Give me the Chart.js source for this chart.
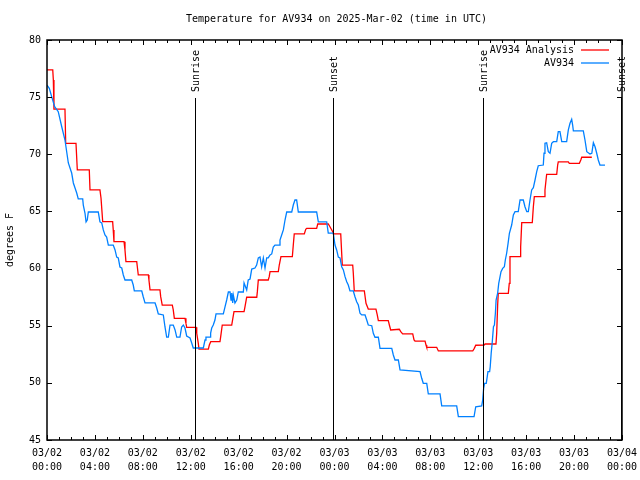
<!DOCTYPE html>
<html>
<head>
<meta charset="utf-8">
<title>Temperature for AV934</title>
<script src="https://cdn.jsdelivr.net/npm/chart.js@4.4.1/dist/chart.umd.min.js"></script>
<style>
  html, body { margin: 0; padding: 0; background: #fff; }
</style>
</head>
<body>
<canvas id="tempChart" width="640" height="480"></canvas>
<script>
const chartTitle = 'Temperature for AV934 on 2025-Mar-02 (time in UTC)';
const yLabel = 'degrees F';
const seriesNames = ['AV934 Analysis', 'AV934'];
const seriesColors = ['#ff0000', '#0080ff'];
const tickDates = ['03/02', '03/03', '03/04'];

// hours since 03/02 00:00 UTC
const sunHours = [12.35, 23.9, 36.42, 47.9];
const sunLabels = ['Sunrise', 'Sunset', 'Sunrise', 'Sunset'];

const analysisHours = [0, 0.48, 0.53, 0.58, 1.50, 1.56, 2.42, 2.53, 3.53, 3.59,
  4.42, 4.51, 4.65, 5.48, 5.53, 5.59, 6.43, 6.51, 6.59, 7.49,
  7.54, 7.62, 8.46, 8.51, 8.60, 9.43, 9.49, 9.62, 10.46, 10.54,
  10.63, 11.52, 11.60, 11.66, 12.44, 12.50, 12.63, 12.69, 13.47, 13.55,
  13.67, 14.44, 14.50, 14.63, 15.42, 15.50, 15.61, 16.45, 16.53, 16.67,
  17.51, 17.56, 17.64, 18.47, 18.55, 18.62, 19.31, 19.39, 19.53, 20.48,
  20.56, 20.64, 21.48, 21.60, 21.68, 22.51, 22.60, 23.48, 23.62, 23.85,
  23.90, 24.52, 24.60, 24.65, 25.52, 25.57, 25.65, 26.49, 26.63, 26.82,
  27.46, 27.57, 27.66, 28.49, 28.58, 28.69, 29.41, 29.53, 29.69, 30.53,
  30.64, 30.72, 31.56, 31.64, 31.70, 32.53, 32.67, 35.54, 35.67, 35.79,
  36.49, 36.57, 37.48, 37.54, 37.62, 37.67, 38.51, 38.59, 38.65, 39.49,
  39.54, 39.63, 40.51, 40.60, 40.68, 41.49, 41.57, 41.71, 42.55, 42.63,
  42.68, 43.52, 43.60, 44.44, 44.56, 44.64, 45.48];
const analysisTemps = [77.38, 77.38, 76.50, 73.96, 73.96, 70.96, 70.96, 68.63, 68.63, 66.88,
  66.88, 66.15, 64.10, 64.10, 63.38, 62.35, 62.35, 61.63, 60.60, 60.60,
  60.16, 59.44, 59.44, 59.00, 58.13, 58.13, 57.54, 56.81, 56.81, 56.38,
  55.65, 55.65, 55.21, 54.86, 54.86, 54.34, 53.46, 52.96, 52.96, 53.31,
  53.60, 53.60, 54.04, 55.06, 55.06, 55.56, 56.23, 56.23, 56.66, 57.49,
  57.49, 57.98, 59.00, 59.00, 59.29, 59.73, 59.73, 60.31, 61.04, 61.04,
  62.06, 63.03, 63.03, 63.44, 63.52, 63.52, 63.90, 63.90, 63.66, 63.23,
  63.03, 63.03, 61.34, 60.31, 60.31, 59.59, 58.04, 58.04, 56.96, 56.46,
  56.46, 55.94, 55.44, 55.44, 55.06, 54.63, 54.69, 54.48, 54.28, 54.28,
  53.75, 53.66, 53.66, 53.31, 53.11, 53.11, 52.79, 52.79, 53.02, 53.29,
  53.31, 53.40, 53.40, 54.34, 56.81, 57.83, 57.83, 58.71, 61.04, 61.04,
  61.91, 64.02, 64.02, 65.41, 66.29, 66.29, 66.88, 68.25, 68.25, 69.06,
  69.33, 69.33, 69.21, 69.21, 69.50, 69.74, 69.74];

const obsHours = [0, 0.19, 0.39, 0.64, 0.94, 1.23, 1.50, 1.78, 2.06, 2.20,
  2.34, 2.48, 2.61, 2.98, 3.03, 3.17, 3.26, 3.36, 3.45, 4.28,
  4.42, 4.57, 4.70, 4.84, 4.98, 5.12, 5.53, 5.68, 5.82, 5.95,
  6.09, 6.24, 6.37, 6.51, 7.07, 7.20, 7.29, 7.91, 8.04, 8.18,
  9.02, 9.16, 9.29, 9.71, 9.85, 9.99, 10.13, 10.27, 10.54, 10.69,
  10.83, 11.10, 11.24, 11.38, 11.52, 11.66, 11.94, 12.08, 12.21, 13.05,
  13.19, 13.27, 13.61, 13.66, 13.75, 13.88, 14.02, 14.11, 14.72, 14.86,
  15.00, 15.14, 15.28, 15.36, 15.42, 15.50, 15.55, 15.69, 15.84, 15.97,
  16.39, 16.45, 16.67, 16.80, 16.95, 17.09, 17.36, 17.50, 17.64, 17.78,
  17.92, 18.06, 18.20, 18.34, 18.47, 18.62, 18.76, 18.89, 19.03, 19.39,
  19.45, 19.59, 19.73, 19.87, 20.01, 20.43, 20.56, 20.70, 20.84, 20.98,
  22.51, 22.65, 23.35, 23.48, 23.90, 24.04, 24.18, 24.32, 24.46, 24.60,
  24.74, 24.88, 25.02, 25.15, 25.29, 25.57, 25.71, 25.85, 25.99, 26.13,
  26.27, 26.55, 26.69, 26.82, 27.11, 27.24, 27.38, 27.66, 27.80, 28.78,
  28.91, 29.05, 29.33, 29.47, 31.14, 31.28, 31.41, 31.70, 31.83, 32.81,
  32.95, 34.20, 34.34, 35.65, 35.79, 36.29, 36.37, 36.45, 36.53, 36.67,
  36.81, 36.95, 37.00, 37.08, 37.16, 37.27, 37.35, 37.43, 37.49, 37.62,
  37.71, 37.82, 37.90, 38.04, 38.18, 38.26, 38.37, 38.49, 38.60, 38.79,
  38.93, 39.07, 39.34, 39.49, 39.76, 39.90, 40.05, 40.18, 40.32, 40.46,
  40.60, 40.74, 40.88, 41.01, 41.43, 41.49, 41.57, 41.71, 41.85, 41.99,
  42.13, 42.27, 42.55, 42.68, 42.82, 42.97, 43.38, 43.52, 43.66, 43.80,
  43.88, 43.94, 44.77, 44.91, 45.06, 45.33, 45.48, 45.61, 45.75, 45.89,
  46.02, 46.16, 46.58];
const obsTemps = [76.06, 75.77, 75.04, 74.16, 73.73, 72.41, 71.25, 69.24, 68.36, 67.49,
  67.05, 66.61, 66.09, 66.09, 65.56, 64.86, 64.08, 64.25, 64.95, 64.95,
  64.08, 63.99, 63.38, 62.94, 62.76, 62.06, 62.06, 61.63, 61.01, 60.93,
  60.14, 60.05, 59.44, 59.00, 59.00, 58.56, 58.04, 58.04, 57.51, 56.99,
  56.99, 56.55, 56.03, 55.94, 54.89, 54.01, 54.01, 55.06, 55.06, 54.63,
  54.01, 54.01, 54.89, 55.06, 54.80, 54.10, 53.93, 53.49, 53.05, 53.05,
  53.75, 54.01, 54.01, 54.36, 54.80, 55.06, 55.50, 56.03, 56.03, 56.64,
  57.25, 57.95, 57.95, 57.25, 57.86, 56.99, 57.69, 56.99, 57.25, 57.95,
  57.95, 58.74, 58.13, 59.00, 59.09, 59.96, 60.05, 60.31, 60.93, 61.01,
  60.14, 60.93, 60.05, 60.93, 60.93, 61.19, 61.28, 61.89, 62.06, 62.06,
  62.50, 62.94, 63.38, 64.25, 64.95, 64.95, 65.56, 66.00, 66.00, 64.95,
  64.95, 64.08, 64.08, 63.11, 63.11, 62.06, 61.63, 61.01, 60.93, 60.16,
  59.88, 59.29, 58.85, 58.56, 58.04, 58.04, 57.54, 57.10, 56.81, 56.09,
  55.94, 55.94, 55.50, 55.06, 55.00, 54.34, 53.99, 53.99, 53.02, 53.02,
  52.44, 52.00, 52.00, 51.13, 50.98, 50.40, 49.96, 49.96, 49.03, 49.03,
  47.98, 47.98, 47.04, 47.04, 47.91, 47.98, 48.50, 49.52, 49.96, 49.96,
  50.98, 50.98, 51.41, 52.59, 53.46, 54.91, 55.06, 56.09, 57.25, 57.84,
  58.71, 59.29, 59.73, 60.02, 60.16, 60.75, 61.34, 62.21, 63.09, 63.81,
  64.69, 64.98, 64.98, 66.00, 66.00, 65.41, 64.98, 64.98, 66.00, 66.88,
  67.08, 67.75, 68.48, 69.00, 69.06, 70.09, 70.96, 71.01, 70.23, 70.09,
  70.96, 71.10, 71.10, 71.98, 71.98, 71.10, 71.10, 72.13, 72.71, 73.06,
  72.56, 72.04, 72.04, 71.25, 70.23, 70.03, 70.09, 71.01, 70.66, 70.09,
  69.50, 69.06, 69.06];

const toPoints = (xs, ys) => xs.map((x, i) => ({ x: x, y: ys[i] }));
const monoFont = '"DejaVu Sans Mono", "Liberation Mono", monospace';

Chart.defaults.font.family = monoFont;
Chart.defaults.font.size = 10;
Chart.defaults.color = '#000';

// gnuplot-like frame, inward ticks, sun lines, legend and title
const gnuplotLook = {
  id: 'gnuplotLook',
  afterDatasetsDraw(chart) {
    const { ctx, chartArea: a, scales: { x, y } } = chart;
    ctx.save();
    ctx.strokeStyle = '#000';
    ctx.fillStyle = '#000';
    ctx.font = '10px ' + monoFont;

    // sunrise / sunset markers
    ctx.lineWidth = 1;
    sunHours.forEach((h, i) => {
      const px = Math.round(x.getPixelForValue(h)) + 0.5;
      ctx.beginPath();
      ctx.moveTo(px, a.top + 58);
      ctx.lineTo(px, a.bottom);
      ctx.stroke();
      ctx.save();
      ctx.translate(px + 1, a.top + 52);
      ctx.rotate(-Math.PI / 2);
      ctx.textAlign = 'left';
      ctx.textBaseline = 'middle';
      ctx.fillText(sunLabels[i], 0, 0);
      ctx.restore();
    });

    // frame
    ctx.lineWidth = 1.5;
    ctx.strokeRect(a.left, a.top, a.right - a.left, a.bottom - a.top);

    // x ticks: hourly minor, 4-hourly major
    ctx.lineWidth = 1;
    for (let h = x.min; h <= x.max; h++) {
      const px = Math.round(x.getPixelForValue(h)) + 0.5;
      const len = h % 4 === 0 ? 5 : 3;
      ctx.beginPath();
      ctx.moveTo(px, a.bottom); ctx.lineTo(px, a.bottom - len);
      ctx.moveTo(px, a.top); ctx.lineTo(px, a.top + len);
      ctx.stroke();
    }
    // y ticks
    y.ticks.forEach(t => {
      const py = Math.round(y.getPixelForValue(t.value)) + 0.5;
      ctx.beginPath();
      ctx.moveTo(a.left, py); ctx.lineTo(a.left + 5, py);
      ctx.moveTo(a.right, py); ctx.lineTo(a.right - 5, py);
      ctx.stroke();
    });

    // legend
    ctx.textAlign = 'right';
    ctx.textBaseline = 'middle';
    chart.data.datasets.forEach((ds, i) => {
      const ly = a.top + 10 + i * 13;
      ctx.fillStyle = '#000';
      ctx.fillText(ds.label, a.right - 48, ly);
      ctx.strokeStyle = ds.borderColor;
      ctx.lineWidth = 1.3;
      ctx.beginPath();
      ctx.moveTo(a.right - 41, ly); ctx.lineTo(a.right - 13, ly);
      ctx.stroke();
    });

    // title
    ctx.fillStyle = '#000';
    ctx.textAlign = 'center';
    ctx.fillText(chartTitle, (a.left + a.right) / 2 + 2, 19);
    ctx.restore();
  }
};

new Chart(document.getElementById('tempChart'), {
  type: 'line',
  data: {
    datasets: [
      {
        label: seriesNames[0],
        data: toPoints(analysisHours, analysisTemps),
        borderColor: seriesColors[0],
        borderWidth: 1.3,
        pointRadius: 0,
        tension: 0,
        fill: false,
        order: 2
      },
      {
        label: seriesNames[1],
        data: toPoints(obsHours, obsTemps),
        borderColor: seriesColors[1],
        borderWidth: 1.3,
        pointRadius: 0,
        tension: 0,
        fill: false,
        order: 1
      }
    ]
  },
  options: {
    responsive: false,
    animation: false,
    layout: { padding: { top: 40, right: 18, left: 0, bottom: 0 } },
    plugins: {
      legend: { display: false },
      title: { display: false },
      tooltip: { enabled: false }
    },
    scales: {
      x: {
        type: 'linear',
        min: 0,
        max: 48,
        grid: { display: false, drawTicks: false },
        border: { display: false },
        ticks: {
          stepSize: 4,
          maxRotation: 0,
          autoSkip: false,
          padding: 6,
          font: { size: 10, lineHeight: 1.4 },
          callback: v => [tickDates[Math.floor(v / 24)], String(v % 24).padStart(2, '0') + ':00']
        },
        afterFit: s => { s.height = 40; s.paddingLeft = 0; s.paddingRight = 0; }
      },
      y: {
        min: 45,
        max: 80,
        grid: { display: false, drawTicks: false },
        border: { display: false },
        ticks: { stepSize: 5, padding: 6, font: { size: 10 } },
        title: { display: true, text: yLabel, font: { size: 10 }, padding: { top: 4, bottom: 0 } },
        afterFit: s => { s.width = 47; }
      }
    }
  },
  plugins: [gnuplotLook]
});
</script>
</body>
</html>
